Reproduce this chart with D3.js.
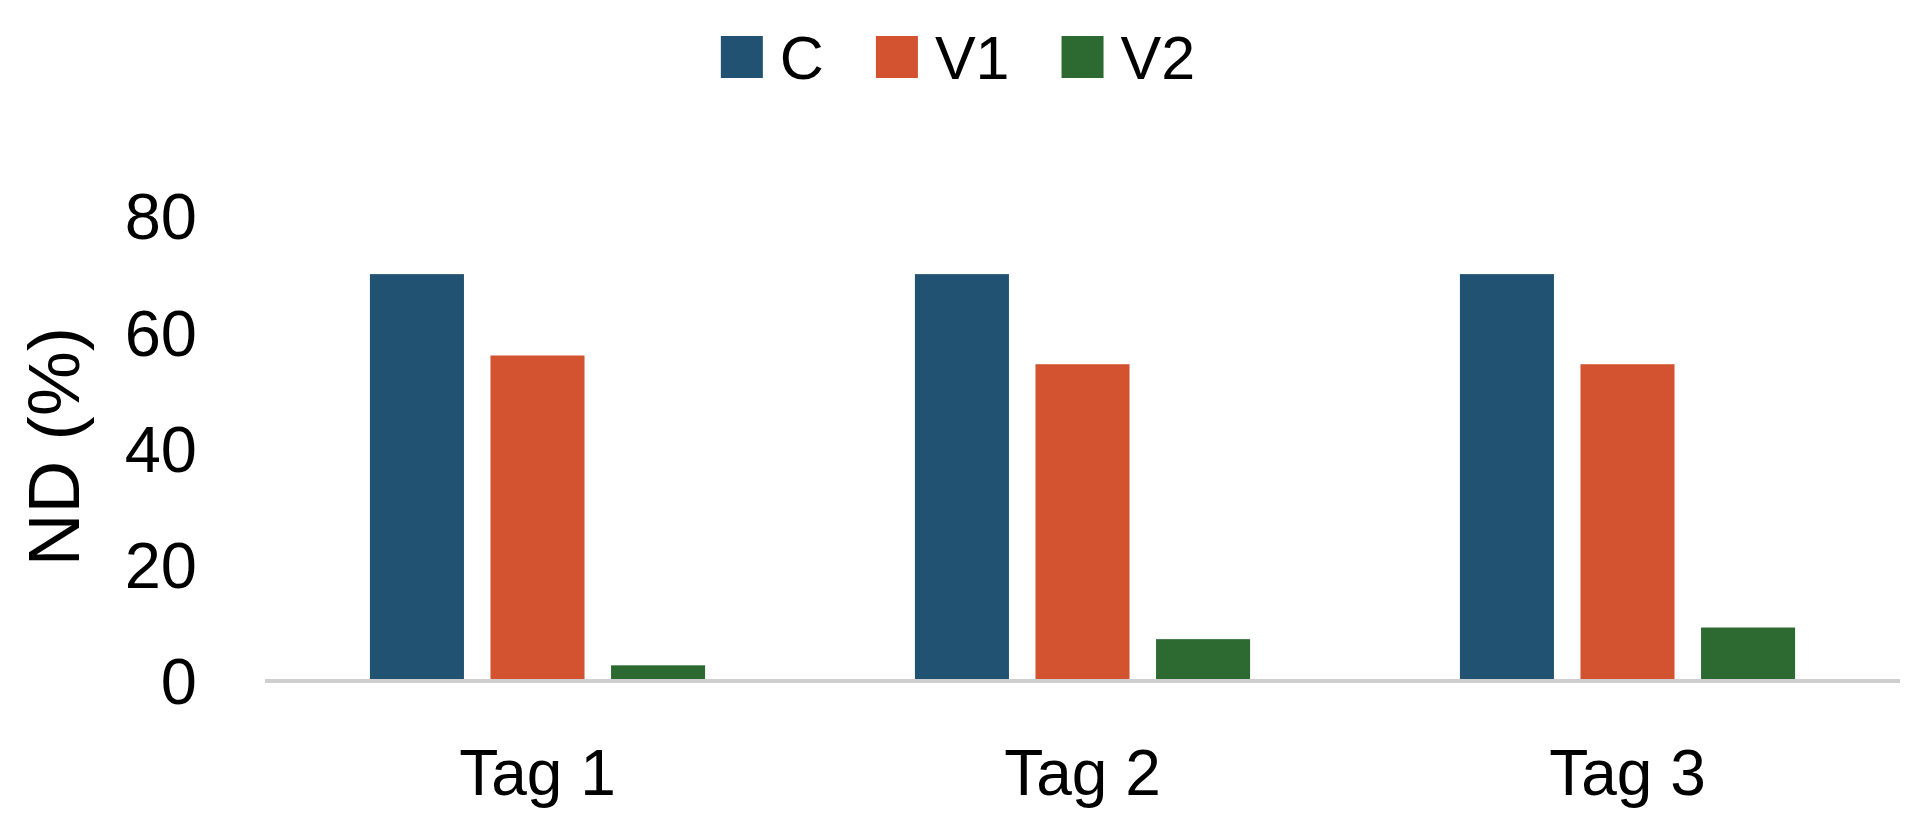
<!DOCTYPE html>
<html>
<head>
<meta charset="utf-8">
<script src="https://cdn.jsdelivr.net/npm/d3@7"></script>
<style>
  html, body { margin: 0; padding: 0; background: #ffffff; }
  svg { display: block; }
  text { font-family: "Liberation Sans", Arial, Helvetica, sans-serif; fill: #000; }
</style>
</head>
<body>
<svg id="chart" width="1920" height="814"></svg>
<script>
const categories = ["Tag 1", "Tag 2", "Tag 3"];
const seriesNames = ["C", "V1", "V2"];
const seriesColors = ["#215272", "#d35230", "#2d6a31"];
const valuesC  = [70, 70, 70];
const valuesV1 = [56, 54.5, 54.5];
const valuesV2 = [2.7, 7.2, 9.2];
const yTicks = [0, 20, 40, 60, 80];
const yLabel = "ND (%)";

const seriesValues = [valuesC, valuesV1, valuesV2];
const rows = categories.map((c, i) => ({
  cat: c,
  vals: seriesNames.map((s, j) => ({ key: s, value: seriesValues[j][i], color: seriesColors[j] }))
}));

const svg = d3.select("#chart");

const x0 = d3.scaleBand().domain(categories).range([265, 1900])
  .paddingInner(0.385).paddingOuter(0.1925);
const x1 = d3.scaleBand().domain(seriesNames).range([0, x0.bandwidth()])
  .paddingInner(0.22).paddingOuter(0);
const y = d3.scaleLinear().domain([0, 80]).range([681, 216]);

// bars
const groups = svg.append("g").selectAll("g").data(rows).join("g")
  .attr("transform", d => `translate(${x0(d.cat)},0)`);
groups.selectAll("rect").data(d => d.vals).join("rect")
  .attr("x", d => x1(d.key))
  .attr("y", d => y(d.value))
  .attr("width", x1.bandwidth())
  .attr("height", d => y(0) - y(d.value))
  .attr("fill", d => d.color);

// x axis baseline
const xAxis = d3.axisBottom(x0).tickSize(0).tickPadding(0);
const gx = svg.append("g").attr("transform", `translate(0,${y(0)})`).call(xAxis);
gx.select(".domain").attr("stroke", "#cfcfcf").attr("stroke-width", 4).attr("d", "M265,0H1900");
gx.selectAll(".tick text")
  .attr("y", 114).attr("dy", null)
  .style("font-family", '"Liberation Sans", Arial, sans-serif')
  .style("font-size", "64px").attr("fill", "#000");

// y axis labels (no line)
const yAxis = d3.axisLeft(y).tickValues(yTicks).tickSize(0).tickPadding(0);
const gy = svg.append("g").attr("transform", "translate(197,0)").call(yAxis);
gy.select(".domain").remove();
gy.selectAll(".tick text")
  .attr("x", 0).attr("dy", "0.35em")
  .style("font-family", '"Liberation Sans", Arial, sans-serif')
  .style("font-size", "65px").attr("fill", "#000");

// y axis title
svg.append("text")
  .attr("transform", `translate(53,${(y(0) + y(80)) / 2 - 2}) rotate(-90)`)
  .attr("text-anchor", "middle").attr("dy", "0.36em")
  .style("font-size", "73px")
  .text(yLabel);

// legend
const legend = svg.append("g");
const sq = 42, gapText = 17, gapItem = 52;
let cx = 0;
seriesNames.forEach((s, i) => {
  const g = legend.append("g").attr("transform", `translate(${cx},0)`);
  g.append("rect").attr("x", 0).attr("y", 36).attr("width", sq).attr("height", sq)
    .attr("fill", seriesColors[i]);
  const t = g.append("text").attr("x", sq + gapText).attr("y", 57).attr("dy", "0.36em")
    .style("font-size", "61px").text(s);
  cx += sq + gapText + t.node().getComputedTextLength() + gapItem;
});
const lw = cx - gapItem;
legend.attr("transform", `translate(${958 - lw / 2},0)`);
</script>
</body>
</html>
